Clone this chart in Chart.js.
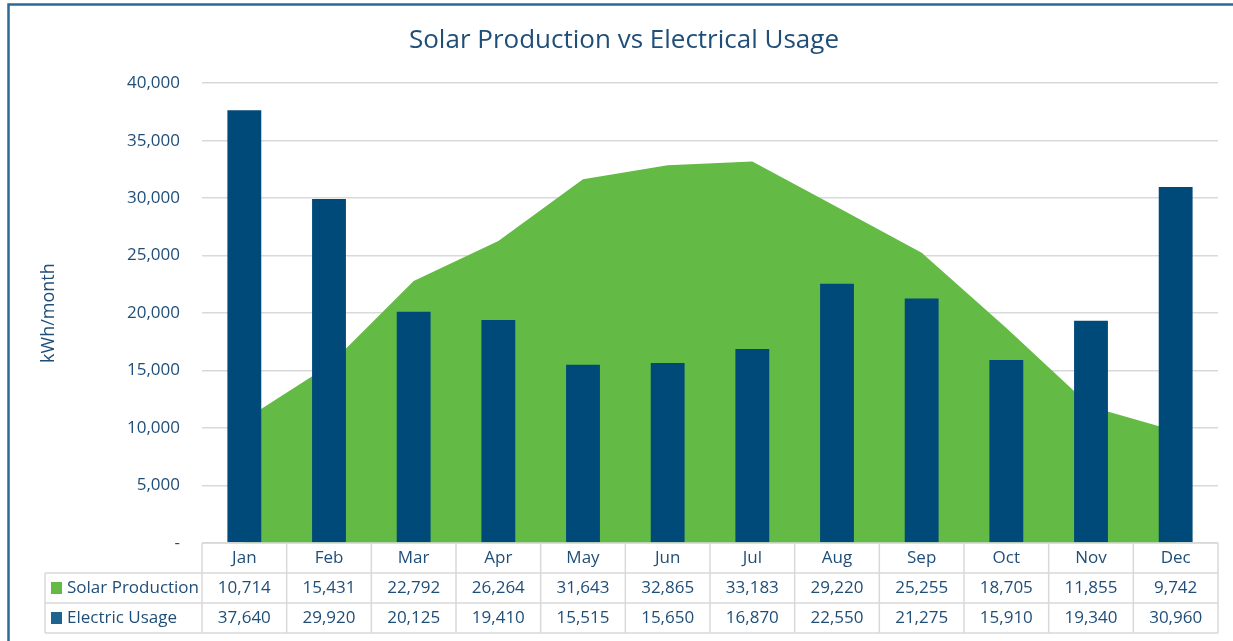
<!DOCTYPE html>
<html lang="en">
<head>
    <meta charset="UTF-8">
    <title>Solar Production vs Electrical Usage</title>
    <script src="https://cdn.jsdelivr.net/npm/chart.js@4.4.1/dist/chart.umd.min.js"></script>
    <style>
        body { margin: 0; background: #fff; }
        canvas { display: block; }
    </style>
</head>
<body>
    <canvas id="solarChart" width="1233" height="641"></canvas>

    <script>
        const months = ['Jan', 'Feb', 'Mar', 'Apr', 'May', 'Jun', 'Jul', 'Aug', 'Sep', 'Oct', 'Nov', 'Dec'];
        const solarProduction = [10714, 15431, 22792, 26264, 31643, 32865, 33183, 29220, 25255, 18705, 11855, 9742];
        const electricUsage = [37640, 29920, 20125, 19410, 15515, 15650, 16870, 22550, 21275, 15910, 19340, 30960];

        const textBlue = '#1F4E79';
        const green = '#63BB46';
        const navy = '#004A7A';
        const gridGrey = '#D9D9D9';
        const fontFamily = '"Open Sans", sans-serif';

        const fmt = v => v === 0 ? '-' : v.toLocaleString('en-US');

        // draws the outer frame and the data table under the plot
        const tablePlugin = {
            id: 'dataTable',
            beforeDraw(chart) {
                const ctx = chart.ctx;
                ctx.save();
                ctx.strokeStyle = '#2A6A99';
                ctx.lineWidth = 2.5;
                ctx.strokeRect(8.5, 4.5, 1240, 660);
                ctx.restore();
            },
            afterDraw(chart) {
                const ctx = chart.ctx;
                const x = chart.scales.x;
                const area = chart.chartArea;
                const colW = area.width / months.length;
                const rowH = 30;
                const top = area.bottom;
                const labelLeft = 45;

                ctx.save();
                ctx.strokeStyle = gridGrey;
                ctx.lineWidth = 1.5;

                // horizontal lines
                ctx.beginPath();
                ctx.moveTo(area.left, top);
                ctx.lineTo(area.right, top);
                for (let r = 1; r <= 3; r++) {
                    ctx.moveTo(labelLeft, top + r * rowH);
                    ctx.lineTo(area.right, top + r * rowH);
                }
                // vertical lines
                for (let i = 0; i <= months.length; i++) {
                    const lx = area.left + i * colW;
                    ctx.moveTo(lx, top);
                    ctx.lineTo(lx, top + 3 * rowH);
                }
                ctx.moveTo(labelLeft, top + rowH);
                ctx.lineTo(labelLeft, top + 3 * rowH);
                ctx.stroke();

                ctx.font = '17px ' + fontFamily;
                ctx.fillStyle = textBlue;
                ctx.textAlign = 'center';
                ctx.textBaseline = 'middle';
                months.forEach((m, i) => {
                    const cx = x.getPixelForValue(i);
                    ctx.fillText(m, cx, top + rowH / 2);
                    ctx.fillText(fmt(solarProduction[i]), cx, top + rowH * 1.5);
                    ctx.fillText(fmt(electricUsage[i]), cx, top + rowH * 2.5);
                });

                // series labels with legend keys
                const rows = [['Solar Production', green], ['Electric Usage', '#1F6391']];
                rows.forEach((row, r) => {
                    const cy = top + rowH * (r + 1.5);
                    ctx.fillStyle = row[1];
                    ctx.fillRect(51, cy - 6, 11, 12);
                    ctx.fillStyle = textBlue;
                    ctx.textAlign = 'left';
                    ctx.fillText(row[0], 67, cy);
                });
                ctx.restore();
            }
        };

        const ctx = document.getElementById('solarChart').getContext('2d');
        const chart = new Chart(ctx, {
            type: 'bar',
            data: {
                labels: months,
                datasets: [{
                    label: 'Electric Usage',
                    data: electricUsage,
                    backgroundColor: navy,
                    barPercentage: 0.4,
                    categoryPercentage: 1,
                    order: 1
                }, {
                    type: 'line',
                    label: 'Solar Production',
                    data: solarProduction,
                    backgroundColor: green,
                    borderWidth: 0,
                    pointRadius: 0,
                    tension: 0,
                    fill: 'origin',
                    order: 2
                }]
            },
            options: {
                responsive: false,
                animation: false,
                layout: {
                    padding: { left: 30, right: 15, top: 0, bottom: 98 }
                },
                plugins: {
                    legend: { display: false },
                    tooltip: { enabled: false },
                    title: {
                        display: true,
                        text: 'Solar Production vs Electrical Usage',
                        color: textBlue,
                        font: { family: fontFamily, size: 26, weight: 'normal' },
                        padding: { top: 25, bottom: 27 }
                    }
                },
                scales: {
                    x: {
                        display: false
                    },
                    y: {
                        min: 0,
                        max: 40000,
                        afterFit(scale) { scale.width = 172; },
                        border: { display: false },
                        grid: { color: gridGrey, lineWidth: 1.5, drawTicks: false },
                        ticks: {
                            stepSize: 5000,
                            padding: 22,
                            color: textBlue,
                            font: { family: fontFamily, size: 17 },
                            callback: v => fmt(v)
                        },
                        title: {
                            display: true,
                            text: 'kWh/month',
                            color: textBlue,
                            font: { family: fontFamily, size: 18 },
                            padding: { top: 8, bottom: 0 }
                        }
                    }
                }
            },
            plugins: [tablePlugin]
        });
    </script>
</body>
</html>
